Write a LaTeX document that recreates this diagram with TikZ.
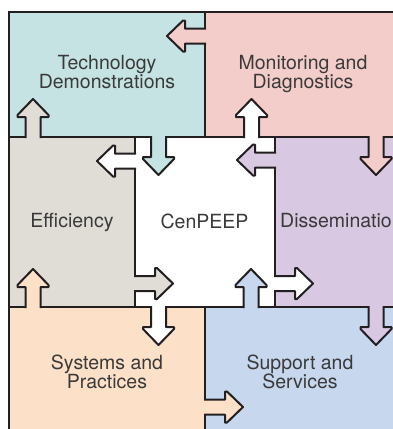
\documentclass[tikz,border=0pt]{standalone}
\usepackage{fontspec}
\setmainfont{TeX Gyre Heros}
\definecolor{cteal}{HTML}{C5E3E2}
\definecolor{cpink}{HTML}{F3CDCA}
\definecolor{cgrey}{HTML}{E0DDD6}
\definecolor{cpurple}{HTML}{D8C8E2}
\definecolor{cpeach}{HTML}{FDE0C8}
\definecolor{cblue}{HTML}{C6D7EE}
\definecolor{cline}{HTML}{231F20}
\definecolor{ctext}{HTML}{3A3A3A}
\newcommand\puzzlearrow[4]{%
  \begin{scope}[shift={(#1,#2)}, rotate=#3]
    \fill[#4] (-2.5,-7.5) -- (20,-7.5) -- (20,-15.5) -- (22,-15.5) -- (38,0)
      -- (22,15.5) -- (20,15.5) -- (20,7.5) -- (-2.5,7.5) -- cycle;
    \draw[arrowline] (-1,-7.5) -- (20,-7.5) -- (20,-15.5) -- (22,-15.5) -- (38,0)
      -- (22,15.5) -- (20,15.5) -- (20,7.5) -- (-1,7.5);
  \end{scope}}
\begin{document}
\begin{tikzpicture}[x=1pt,y=-1pt,
  border/.style={draw=cline, line width=2pt},
  arrowline/.style={draw=cline, line width=2pt, line join=round},
  lbl/.style={text=ctext, font=\fontsize{19.5}{19}\selectfont, align=center, inner sep=0pt}]
\useasboundingbox (0,0) rectangle (393,429);
\clip (0,0) rectangle (393,429);
\fill[white] (0,0) rectangle (393,429);
% regions
\fill[cteal] (9,12) rectangle (205,137);
\fill[cpink] (205,12) rectangle (420,137);
\fill[cgrey] (9,137) rectangle (135,307);
\fill[white] (135,137) rectangle (275,307);
\fill[cpurple] (275,137) rectangle (420,307);
\fill[cpeach] (9,307) rectangle (205,440);
\fill[cblue] (205,307) rectangle (420,440);
% borders
\draw[border] (9,440) -- (9,12) -- (420,12);
\draw[border] (205,12) -- (205,137);
\draw[border] (9,137) -- (420,137);
\draw[border] (135,137) -- (135,307);
\draw[border] (275,137) -- (275,307);
\draw[border] (9,307) -- (420,307);
\draw[border] (205,307) -- (205,440);
% arrows
\puzzlearrow{205}{36}{180}{cpink}
\puzzlearrow{33}{137}{90}{cgrey}
\puzzlearrow{158.5}{137}{270}{cteal}
\puzzlearrow{251.5}{137}{90}{white}
\puzzlearrow{376}{137}{270}{cpink}
\puzzlearrow{135}{161}{180}{white}
\puzzlearrow{275}{160}{180}{cpurple}
\puzzlearrow{135}{283.5}{0}{cgrey}
\puzzlearrow{275}{283.5}{0}{white}
\puzzlearrow{33}{307}{90}{cpeach}
\puzzlearrow{158.5}{307}{270}{white}
\puzzlearrow{251}{307}{90}{cblue}
\puzzlearrow{376}{307}{270}{cpurple}
\puzzlearrow{205}{407}{0}{cpeach}
% labels
\node[lbl] (tech) at (107,72.5) {Technology\\Demonstrations};
\node[lbl] (moni) at (303,74) {Monitoring and\\Diagnostics};
\node[lbl, anchor=base] (effi) at (72,227.5) {Efficiency};
\node[lbl, anchor=base] (cenp) at (204.5,228) {CenPEEP};
\node[lbl, anchor=base west] (diss) at (280,227.5) {Dissemination};
\node[lbl] (syst) at (107,372) {Systems and\\Practices};
\node[lbl] (supp) at (300,372) {Support and\\Services};
\end{tikzpicture}
\end{document}
